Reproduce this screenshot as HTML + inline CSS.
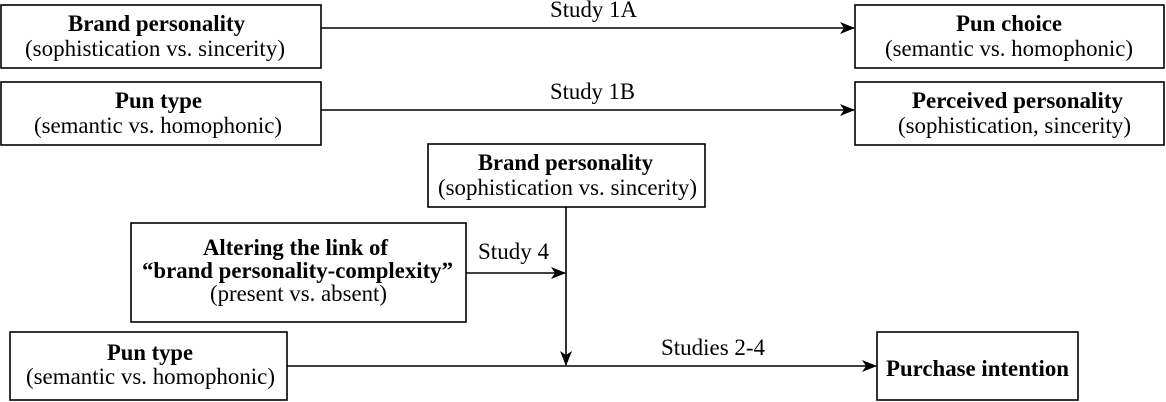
<!DOCTYPE html>
<html><head><meta charset="utf-8"><style>
html,body{margin:0;padding:0;background:#fff;}
svg{display:block;}
text{font-family:"Liberation Serif","Times New Roman",Times,serif;font-size:23px;fill:#000;}
.b{font-weight:bold;}
</style></head><body>
<svg width="1166" height="402" viewBox="0 0 1166 402" xmlns="http://www.w3.org/2000/svg">
<defs><marker id="a" markerWidth="15" markerHeight="12" refX="14" refY="6" orient="auto" markerUnits="userSpaceOnUse"><path d="M0,0 L15,6 L0,12 L4,6 Z" fill="#000"/></marker></defs>
<g fill="none" stroke="#000" stroke-width="1.6">
<rect x="1" y="5" width="320" height="63"/>
<rect x="1" y="82" width="320" height="63"/>
<rect x="428" y="144" width="277" height="63"/>
<rect x="131" y="223" width="335" height="99"/>
<rect x="10" y="332" width="277" height="68"/>
<rect x="855" y="5" width="309" height="63"/>
<rect x="855" y="82" width="309" height="63"/>
<rect x="877" y="332" width="201" height="68"/>
<line x1="321" y1="28" x2="854" y2="28" marker-end="url(#a)"/>
<line x1="321" y1="110" x2="854" y2="110" marker-end="url(#a)"/>
<line x1="466" y1="273" x2="565" y2="273" marker-end="url(#a)"/>
<line x1="566" y1="207" x2="566" y2="365" marker-end="url(#a)"/>
<line x1="287" y1="366" x2="876" y2="366" marker-end="url(#a)"/>
</g>
<text class="b" x="68" y="31" textLength="177" lengthAdjust="spacingAndGlyphs">Brand personality</text>
<text x="25" y="56" textLength="260" lengthAdjust="spacingAndGlyphs">(sophistication vs. sincerity)</text>
<text class="b" x="115" y="108" textLength="87" lengthAdjust="spacingAndGlyphs">Pun type</text>
<text x="34" y="133" textLength="248" lengthAdjust="spacingAndGlyphs">(semantic vs. homophonic)</text>
<text class="b" x="478" y="170" textLength="175" lengthAdjust="spacingAndGlyphs">Brand personality</text>
<text x="438" y="195" textLength="259" lengthAdjust="spacingAndGlyphs">(sophistication vs. sincerity)</text>
<text class="b" x="203" y="255" textLength="185" lengthAdjust="spacingAndGlyphs">Altering the link of</text>
<text class="b" x="142" y="278" textLength="311" lengthAdjust="spacingAndGlyphs">“brand personality-complexity”</text>
<text x="210" y="301" textLength="177" lengthAdjust="spacingAndGlyphs">(present vs. absent)</text>
<text class="b" x="107" y="360" textLength="86" lengthAdjust="spacingAndGlyphs">Pun type</text>
<text x="26" y="384" textLength="249" lengthAdjust="spacingAndGlyphs">(semantic vs. homophonic)</text>
<text class="b" x="956" y="31" textLength="106" lengthAdjust="spacingAndGlyphs">Pun choice</text>
<text x="885" y="56" textLength="248" lengthAdjust="spacingAndGlyphs">(semantic vs. homophonic)</text>
<text class="b" x="912" y="108" textLength="211" lengthAdjust="spacingAndGlyphs">Perceived personality</text>
<text x="898" y="133" textLength="233" lengthAdjust="spacingAndGlyphs">(sophistication, sincerity)</text>
<text class="b" x="886" y="376" textLength="183" lengthAdjust="spacingAndGlyphs">Purchase intention</text>
<text x="550" y="17" textLength="87" lengthAdjust="spacingAndGlyphs">Study 1A</text>
<text x="550" y="99" textLength="85" lengthAdjust="spacingAndGlyphs">Study 1B</text>
<text x="478" y="259" textLength="71" lengthAdjust="spacingAndGlyphs">Study 4</text>
<text x="661" y="355" textLength="104" lengthAdjust="spacingAndGlyphs">Studies 2-4</text>
</svg>
</body></html>
